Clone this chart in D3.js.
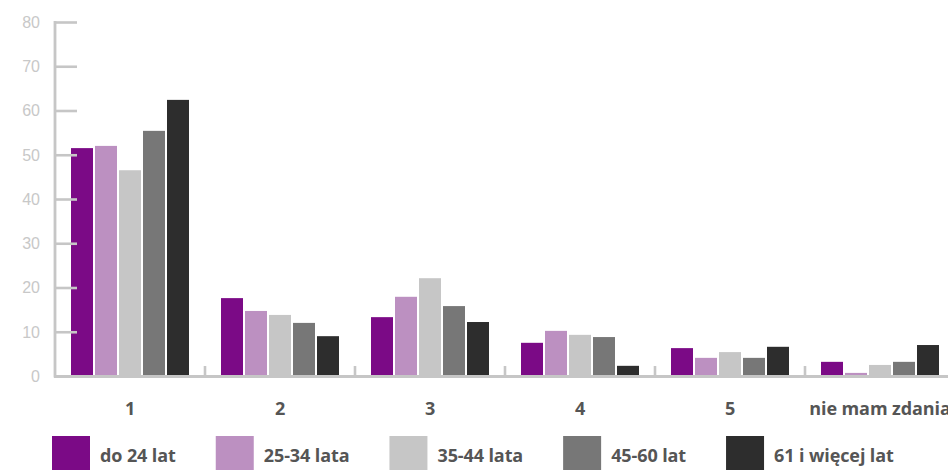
<!DOCTYPE html>
<html>
<head>
<meta charset="utf-8">
<script src="https://cdn.jsdelivr.net/npm/d3@7"></script>
<style>
  html, body { margin: 0; padding: 0; background: #fff; }
  svg { display: block; }
</style>
</head>
<body>
<svg id="chart" width="948" height="470"></svg>
<script>
// Answer categories along the x axis
const categories = ["1", "2", "3", "4", "5", "nie mam zdania"];
// Age groups (series)
const seriesNames = ["do 24 lat", "25-34 lata", "35-44 lata", "45-60 lat", "61 i więcej lat"];
const seriesColors = ["#7b0a86", "#bc90c1", "#c6c6c6", "#777777", "#2d2d2d"];
// Percent values per age group, one entry per category
const do24 =      [51.5, 17.6, 13.3, 7.5, 6.3, 3.2];
const lat25_34 =  [52.0, 14.7, 17.9, 10.2, 4.1, 0.7];
const lat35_44 =  [46.5, 13.8, 22.1, 9.3, 5.4, 2.5];
const lat45_60 =  [55.4, 12.0, 15.8, 8.8, 4.1, 3.2];
const lat61plus = [62.4, 9.0, 12.2, 2.3, 6.6, 7.0];
const yTicks = [0, 10, 20, 30, 40, 50, 60, 70, 80];

const series = [do24, lat25_34, lat35_44, lat45_60, lat61plus];

const svg = d3.select("#chart");
const axisColor = "#c6c6c6";
const labelFont = "Open Sans, sans-serif";

const x0 = d3.scaleBand().domain(categories).range([55, 955]).paddingInner(0).paddingOuter(0);
const y = d3.scaleLinear().domain([0, 80]).range([376, 22]);
const x1 = d3.scaleBand().domain(d3.range(seriesNames.length))
  .range([16, 134]).paddingInner(2 / 24).paddingOuter(0);

// Bars
const groups = svg.append("g").selectAll("g")
  .data(categories)
  .join("g")
  .attr("transform", d => `translate(${x0(d)},0)`);

groups.selectAll("rect")
  .data((c, ci) => series.map((s, si) => ({ si, v: s[ci] })))
  .join("rect")
  .attr("x", d => x1(d.si))
  .attr("width", x1.bandwidth())
  .attr("y", d => y(d.v))
  .attr("height", d => y(0) - y(d.v))
  .attr("fill", d => seriesColors[d.si]);

// Y axis
const yAxis = svg.append("g").attr("transform", "translate(55,0)")
  .call(d3.axisRight(y).tickValues(yTicks).tickSize(22).tickFormat(""));
yAxis.select(".domain").remove();
yAxis.selectAll(".tick line").attr("stroke", axisColor).attr("stroke-width", 2.6);
svg.append("line").attr("x1", 55).attr("x2", 55).attr("y1", y(80) - 1).attr("y2", y(0) + 1.5)
  .attr("stroke", axisColor).attr("stroke-width", 2.8);

svg.append("g").selectAll("text")
  .data(yTicks)
  .join("text")
  .attr("x", 40)
  .attr("y", d => y(d))
  .attr("dy", "0.36em")
  .attr("text-anchor", "end")
  .attr("font-family", "Liberation Sans, Arial, sans-serif")
  .attr("font-size", 16)
  .attr("fill", "#c8c8c8")
  .text(d => d);

// X axis line and category boundary ticks
svg.append("line").attr("x1", 54).attr("x2", 948).attr("y1", y(0) + 0.5).attr("y2", y(0) + 0.5)
  .attr("stroke", axisColor).attr("stroke-width", 2.8);
svg.append("g").selectAll("line")
  .data(categories.slice(1))
  .join("line")
  .attr("x1", d => x0(d)).attr("x2", d => x0(d))
  .attr("y1", y(0)).attr("y2", y(0) - 10)
  .attr("stroke", axisColor).attr("stroke-width", 2.6);

// Category labels
svg.append("g").selectAll("text")
  .data(categories)
  .join("text")
  .attr("x", d => x0(d) + x0.bandwidth() / 2)
  .attr("y", 415)
  .attr("text-anchor", "middle")
  .attr("font-family", labelFont)
  .attr("font-weight", "bold")
  .attr("font-size", 18)
  .attr("letter-spacing", -0.1)
  .attr("fill", "#555")
  .text(d => d);

// Legend
const legend = svg.append("g");
let lx = 52;
seriesNames.forEach((name, i) => {
  legend.append("rect").attr("x", lx).attr("y", 436).attr("width", 38).attr("height", 34)
    .attr("fill", seriesColors[i]);
  const t = legend.append("text").attr("x", lx + 48).attr("y", 462)
    .attr("font-family", labelFont)
    .attr("font-weight", "bold")
    .attr("font-size", 18)
    .attr("letter-spacing", -0.1)
    .attr("fill", "#555")
    .text(name);
  lx += 48 + t.node().getComputedTextLength() + 40;
});
</script>
</body>
</html>
